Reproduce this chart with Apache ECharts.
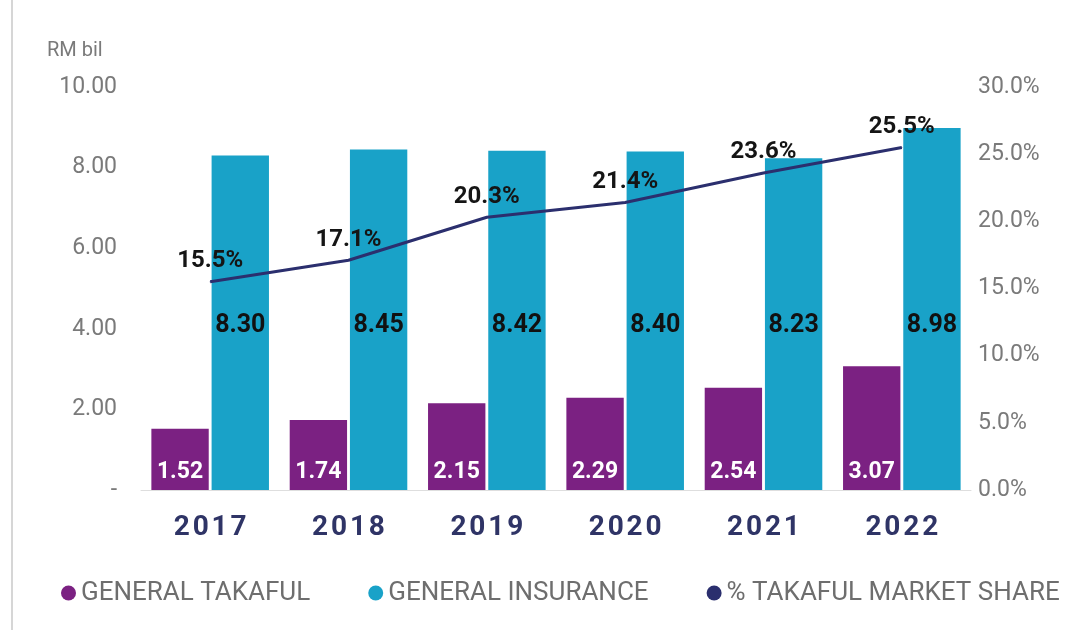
<!DOCTYPE html>
<html>
<head>
<meta charset="utf-8">
<script src="https://cdn.jsdelivr.net/npm/echarts@6/dist/echarts.min.js"></script>
<style>html,body{margin:0;padding:0;background:#fff;}#c{width:1086px;height:630px;}</style>
</head>
<body>
<div id="c"></div>
<script>
const years = ['2017','2018','2019','2020','2021','2022'];
const generalTakaful = [1.52, 1.74, 2.15, 2.29, 2.54, 3.07];
const generalInsurance = [8.30, 8.45, 8.42, 8.40, 8.23, 8.98];
const takafulShare = [15.5, 17.1, 20.3, 21.4, 23.6, 25.5];
const seriesNames = ['GENERAL TAKAFUL', 'GENERAL INSURANCE', '% TAKAFUL MARKET SHARE'];

const FONT = 'Roboto, "Noto Sans", sans-serif';
const chart = echarts.init(document.getElementById('c'));
chart.setOption({
  animation: false,
  textStyle: { fontFamily: FONT },
  title: {
    text: 'RM bil', left: 42, top: 36,
    textStyle: { fontFamily: FONT, fontSize: 20, fontWeight: 'normal', color: '#7a7a7a' }
  },
  graphic: [{
    type: 'line', shape: { x1: 12, y1: 0, x2: 12, y2: 630 },
    style: { stroke: '#d6d6d6', lineWidth: 2 }
  }],
  grid: { left: 141, right: 115, top: 87, bottom: 140 },
  legend: {
    data: seriesNames, left: 56, top: 575, icon: 'circle',
    itemWidth: 15, itemHeight: 15, itemGap: 58,
    textStyle: { fontFamily: FONT, fontSize: 26, color: '#6e6e6e' }
  },
  xAxis: {
    type: 'category', data: years,
    axisLine: { lineStyle: { color: '#dedede', width: 1 } },
    axisTick: { show: false },
    axisLabel: { margin: 24, fontFamily: FONT, fontSize: 28, fontWeight: 'bold', color: '#2f3466',
      formatter: v => v.split('').join('\u200a') }
  },
  yAxis: [{
    type: 'value', min: 0, max: 10, interval: 2,
    splitLine: { show: false }, axisLine: { show: false }, axisTick: { show: false },
    axisLabel: { margin: 24, fontFamily: FONT, fontSize: 23, color: '#7a7a7a',
      formatter: v => v === 0 ? '-' : v.toFixed(2) }
  }, {
    type: 'value', min: 0, max: 30, interval: 5,
    splitLine: { show: false }, axisLine: { show: false }, axisTick: { show: false },
    axisLabel: { margin: 7, fontFamily: FONT, fontSize: 23, color: '#7a7a7a',
      formatter: v => v.toFixed(1) + '%' }
  }],
  series: [{
    name: seriesNames[0], type: 'bar', data: generalTakaful,
    barGap: '5%', barCategoryGap: '15%',
    itemStyle: { color: '#7b2182' },
    label: { show: true, position: 'insideBottom', distance: 6, color: '#ffffff',
      fontFamily: FONT, fontSize: 23, fontWeight: 'bold', formatter: p => p.value.toFixed(2) }
  }, {
    name: seriesNames[1], type: 'bar', data: generalInsurance,
    itemStyle: { color: '#19a2c8' },
    label: { show: true, position: 'insideBottom', distance: 152, color: '#111111',
      fontFamily: FONT, fontSize: 25, fontWeight: 'bold', formatter: p => p.value.toFixed(2) }
  }, {
    name: seriesNames[2], type: 'line', yAxisIndex: 1, data: takafulShare,
    symbol: 'circle', symbolSize: 1, showSymbol: true, z: 5,
    lineStyle: { color: '#2b2f6e', width: 3 },
    itemStyle: { color: '#2b2f6e' },
    label: { show: true, position: 'top', distance: 8, color: '#151515',
      fontFamily: FONT, fontSize: 24, fontWeight: 'bold', formatter: p => p.value.toFixed(1) + '%' }
  }]
});
</script>
</body>
</html>
